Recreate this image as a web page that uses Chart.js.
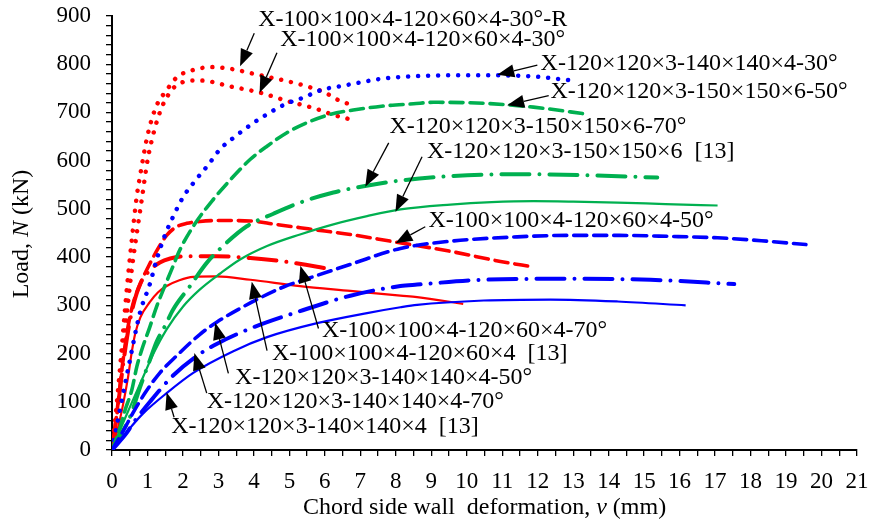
<!DOCTYPE html>
<html>
<head>
<meta charset="utf-8">
<script src="https://cdn.jsdelivr.net/npm/chart.js@4.4.1/dist/chart.umd.min.js"></script>
<style>
  html, body { margin: 0; padding: 0; background: #fff; }
  #wrap { width: 871px; height: 523px; }
</style>
</head>
<body>
<div id="wrap"><canvas id="canvas" width="871" height="523"></canvas></div>
<script>
// axis ranges / ticks
var xMax = 21, xStep = 0.5;
var yMax = 900, yStep = 20;

// X-100x100x4-120x60x4-30-R (red dotted, upper)
var r30R_x = [0, 0.1, 0.25, 0.4, 0.55, 0.7, 0.79, 0.98, 1.12, 1.3, 1.5, 1.83, 2.29, 2.81, 3.38, 3.94, 4.5, 4.93, 5.5, 5.98, 6.34, 6.86];
var r30R_y = [0, 70, 190, 320, 430, 527, 568, 645, 686, 721, 742, 773, 788, 794, 790, 781, 772, 765, 754, 742, 727, 713];
// X-100x100x4-120x60x4-30 (red dotted)
var r30_x = [0, 0.1, 0.25, 0.4, 0.55, 0.7, 0.84, 1.0, 1.2, 1.4, 1.6, 1.78, 2.25, 2.53, 3.33, 4.18, 4.93, 5.73, 6.24, 6.8];
var r30_y = [0, 55, 160, 270, 370, 450, 520, 600, 665, 710, 738, 754, 766, 766, 754, 741, 724, 708, 695, 684];
// X-100x100x4-120x60x4-50 (red dashed)
var r50_x = [0, 0.15, 0.3, 0.45, 0.6, 0.8, 1.03, 1.3, 1.54, 1.8, 2.11, 2.48, 3.0, 3.9, 4.6, 5.3, 6.0, 6.72, 7.85, 9.54, 10.95, 11.85];
var r50_y = [0, 85, 180, 255, 305, 345, 381, 418, 445, 462, 470, 474, 476, 475, 468, 461, 454, 447, 433, 412, 391, 380];
// X-100x100x4-120x60x4-70 (red dash-dot)
var r70_x = [0, 0.15, 0.3, 0.45, 0.6, 0.8, 1.07, 1.35, 1.64, 2.11, 2.95, 3.9, 4.83, 5.78, 6.2];
var r70_y = [0, 80, 170, 245, 300, 345, 373, 389, 397, 402, 402, 398, 391, 380, 374];
// X-100x100x4-120x60x4 [13] (red solid)
var r13_x = [0, 0.15, 0.3, 0.45, 0.55, 0.65, 0.8, 1.07, 1.3, 1.54, 1.9, 2.29, 2.95, 3.9, 5.3, 6.72, 8.13, 8.6, 9.9];
var r13_y = [0, 40, 90, 150, 200, 240, 275, 307, 327, 340, 352, 359, 360, 353, 340, 330, 320, 317, 303];

// X-120x120x3-140x140x4-30 (blue dotted)
var b30_x = [0, 0.2, 0.46, 0.79, 1.07, 1.26, 1.5, 1.75, 2.0, 2.34, 2.72, 3.05, 3.47, 3.94, 4.41, 4.88, 5.4, 5.92, 6.48, 7.05, 7.6, 8.5, 9.5, 10.7, 11.8, 12.9];
var b30_y = [0, 75, 170, 285, 345, 395, 447, 488, 524, 558, 592, 624, 650, 676, 698, 717, 731, 747, 755, 763, 770, 775, 777, 777, 775, 767];
// X-120x120x3-140x140x4-50 (blue dashed)
var b50_x = [0, 0.32, 0.6, 0.93, 1.35, 1.83, 2.48, 2.95, 3.9, 4.83, 5.78, 6.72, 8.13, 9.54, 11.42, 12.8, 14.25, 15.7, 17.07, 18.3, 19.56];
var b50_y = [0, 40, 78, 118, 160, 196, 240, 265, 305, 338, 362, 385, 418, 433, 442, 445, 445, 443, 440, 434, 426];
// X-120x120x3-140x140x4-70 (blue dash-dot)
var b70_x = [0, 0.41, 0.6, 1.07, 1.73, 2.39, 2.95, 3.9, 5.3, 6.72, 8.13, 8.6, 10.48, 12.83, 15.18, 17.54];
var b70_y = [0, 35, 56, 100, 155, 195, 220, 252, 288, 320, 340, 343, 353, 355, 353, 344];
// X-120x120x3-140x140x4 [13] (blue solid)
var b13_x = [0, 0.23, 0.5, 0.88, 1.54, 2.29, 3.42, 4.37, 5.78, 7.19, 8.13, 8.6, 10.48, 12.36, 14.25, 16.17];
var b13_y = [0, 21, 45, 76, 118, 160, 205, 234, 263, 284, 296, 301, 310, 312, 308, 300];

// X-120x120x3-150x150x6-50 (green dashed)
var g50_x = [0, 0.2, 0.37, 0.56, 0.7, 0.84, 1.07, 1.26, 1.45, 1.68, 1.92, 2.3, 2.86, 3.42, 3.9, 4.37, 4.93, 5.5, 6.15, 6.8, 7.6, 8.5, 9.06, 10.47, 11.88, 13.43];
var g50_y = [0, 40, 83, 125, 173, 208, 256, 298, 333, 374, 416, 465, 520, 567, 603, 630, 658, 679, 696, 705, 713, 718, 721, 719, 711, 696];
// X-120x120x3-150x150x6-70 (green dash-dot)
var g70_x = [0, 0.23, 0.51, 0.79, 1.07, 1.26, 1.5, 1.72, 2.2, 2.67, 3.13, 3.8, 4.55, 5.3, 6.24, 7.09, 8.04, 9.54, 11.42, 13.3, 15.37];
var g70_y = [0, 30, 69, 130, 187, 225, 258, 291, 340, 388, 423, 464, 490, 513, 534, 547, 558, 568, 572, 570, 565];
// X-120x120x3-150x150x6 [13] (green solid)
var g13_x = [0, 0.23, 0.51, 0.88, 1.17, 1.54, 2.01, 2.48, 3.05, 3.61, 4.37, 5.3, 6.24, 7.19, 8.13, 9.54, 10.7, 11.88, 13, 14.25, 15.6, 17.07];
var g13_y = [0, 42, 90, 152, 200, 250, 298, 333, 366, 395, 423, 447, 468, 485, 499, 509, 514, 516, 515, 513, 510, 507];

// label text, label anchor (left/middle), arrow tail, arrow tip  - all in data units
var notes = [
  { t: "X-100×100×4-120×60×4-30°-R", at: [4.12, 892], from: [4.01, 864], to: [3.61, 796] },
  { t: "X-100×100×4-120×60×4-30°", at: [4.74, 850], from: [4.65, 824], to: [4.16, 741] },
  { t: "X-120×120×3-140×140×4-30°", at: [12.08, 801], from: [11.99, 798], to: [10.86, 778] },
  { t: "X-120×120×3-150×150×6-50°", at: [12.36, 742], from: [12.31, 735], to: [11.14, 715] },
  { t: "X-120×120×3-150×150×6-70°", at: [7.82, 670], from: [7.8, 637], to: [7.14, 546] },
  { t: "X-120×120×3-150×150×6  [13]", at: [8.88, 618], from: [8.74, 608], to: [7.99, 494] },
  { t: "X-100×100×4-120×60×4-50°", at: [8.92, 475], from: [8.83, 463], to: [7.99, 429] },
  { t: "X-100×100×4-120×60×4-70°", at: [5.92, 247], from: [5.82, 252], to: [5.31, 382] },
  { t: "X-100×100×4-120×60×4  [13]", at: [4.51, 199], from: [4.37, 206], to: [3.94, 349] },
  { t: "X-120×120×3-140×140×4-50°", at: [3.47, 149], from: [3.28, 159], to: [2.91, 264] },
  { t: "X-120×120×3-140×140×4-70°", at: [2.67, 100], from: [2.67, 118], to: [2.32, 201] },
  { t: "X-120×120×3-140×140×4  [13]", at: [1.67, 48], from: [1.75, 68], to: [1.54, 119] }
];

var RED = "#ff0000", BLUE = "#0000ff", GREEN = "#00b050";
var DOT = [0.01, 10], DASH = [13, 7], DASHDOT = [28, 10, 0.01, 10];
var serif = "'Times New Roman', 'Liberation Serif', serif";

function pts(xs, ys) {
	var out = [];
	for (var i = 0; i < xs.length; i++) out.push({ x: xs[i], y: ys[i] });
	return out;
}

function line(xs, ys, color, dash, width) {
	return {
		data: pts(xs, ys),
		showLine: true,
		borderColor: color,
		backgroundColor: color,
		borderWidth: width,
		borderDash: dash,
		borderCapStyle: dash.length ? "round" : "butt",
		pointRadius: 0,
		cubicInterpolationMode: "monotone",
		fill: false
	};
}

var datasets = [
	line(b13_x, b13_y, BLUE, [], 2.2),
	line(b70_x, b70_y, BLUE, DASHDOT, 4),
	line(b50_x, b50_y, BLUE, DASH, 3.6),
	line(g13_x, g13_y, GREEN, [], 2.2),
	line(g70_x, g70_y, GREEN, DASHDOT, 4),
	line(g50_x, g50_y, GREEN, DASH, 3.6),
	line(b30_x, b30_y, BLUE, DOT, 4.5),
	line(r13_x, r13_y, RED, [], 2.2),
	line(r70_x, r70_y, RED, DASHDOT, 4),
	line(r50_x, r50_y, RED, DASH, 3.6),
	line(r30_x, r30_y, RED, DOT, 4.5),
	line(r30R_x, r30R_y, RED, DOT, 4.5)
];

// white page + axis titles + arrows with labels
var decor = {
	id: "decor",
	beforeDraw: function(chart) {
		var c = chart.ctx;
		c.save();
		c.fillStyle = "#fff";
		c.fillRect(0, 0, chart.width, chart.height);
		c.restore();
	},
	afterDatasetsDraw: function(chart) {
		var c = chart.ctx, sx = chart.scales.x, sy = chart.scales.y;
		c.save();
		notes.forEach(function(n) {
			var x0 = sx.getPixelForValue(n.from[0]), y0 = sy.getPixelForValue(n.from[1]);
			var x1 = sx.getPixelForValue(n.to[0]), y1 = sy.getPixelForValue(n.to[1]);
			var a = Math.atan2(y1 - y0, x1 - x0), hl = 17, hw = 6.5;
			var bx = x1 - hl * Math.cos(a), by = y1 - hl * Math.sin(a);
			c.strokeStyle = "#000";
			c.lineWidth = 1.3;
			c.beginPath();
			c.moveTo(x0, y0);
			c.lineTo(bx, by);
			c.stroke();
			c.fillStyle = "#000";
			c.beginPath();
			c.moveTo(x1, y1);
			c.lineTo(bx + hw * Math.sin(a), by - hw * Math.cos(a));
			c.lineTo(bx - hw * Math.sin(a), by + hw * Math.cos(a));
			c.closePath();
			c.fill();
			c.font = "24px " + serif;
			c.textBaseline = "middle";
			c.textAlign = "left";
			c.fillText(n.t, sx.getPixelForValue(n.at[0]), sy.getPixelForValue(n.at[1]));
		});
		c.restore();
	},
	afterDraw: function(chart) {
		var c = chart.ctx, area = chart.chartArea;
		c.save();
		c.fillStyle = "#000";
		c.textBaseline = "middle";
		// x title with italic v
		var p1 = "Chord side wall  deformation, ", p2 = "v", p3 = " (mm)";
		c.font = "24px " + serif;
		var w1 = c.measureText(p1).width, w3 = c.measureText(p3).width;
		c.font = "italic 24px " + serif;
		var w2 = c.measureText(p2).width;
		var cx = (area.left + area.right) / 2, ty = area.bottom + 58;
		var x = cx - (w1 + w2 + w3) / 2;
		c.textAlign = "left";
		c.font = "24px " + serif; c.fillText(p1, x, ty); x += w1;
		c.font = "italic 24px " + serif; c.fillText(p2, x, ty); x += w2;
		c.font = "24px " + serif; c.fillText(p3, x, ty);
		// y title with italic N
		var q1 = "Load, ", q2 = "N", q3 = " (kN)";
		c.translate(22, 234);
		c.rotate(-Math.PI / 2);
		c.font = "24px " + serif;
		var v1 = c.measureText(q1).width, v3 = c.measureText(q3).width;
		c.font = "italic 24px " + serif;
		var v2 = c.measureText(q2).width;
		x = -(v1 + v2 + v3) / 2;
		c.font = "24px " + serif; c.fillText(q1, x, 0); x += v1;
		c.font = "italic 24px " + serif; c.fillText(q2, x, 0); x += v2;
		c.font = "24px " + serif; c.fillText(q3, x, 0);
		c.restore();
	}
};

window.onload = function() {
	var ctx = document.getElementById("canvas").getContext("2d");
	window.myChart = new Chart(ctx, {
		type: "scatter",
		data: { datasets: datasets },
		plugins: [decor],
		options: {
			responsive: false,
			animation: false,
			layout: { padding: { top: 16, right: 14, left: 0, bottom: 0 } },
			plugins: { legend: { display: false }, tooltip: { enabled: false } },
			scales: {
				x: {
					type: "linear",
					min: 0,
					max: xMax,
					afterFit: function(s) {
						s.height = 73;
						s.paddingLeft = 0;
						s.paddingRight = 0;
					},
					border: { display: true, color: "#000", width: 2 },
					grid: { display: true, drawOnChartArea: false, drawTicks: true, tickLength: 6, color: "#000", lineWidth: 1.3 },
					ticks: {
						stepSize: xStep,
						autoSkip: false,
						maxRotation: 0,
						padding: 12,
						color: "#000",
						font: { family: serif, size: 23 },
						callback: function(v) { return Number.isInteger(v) ? String(v) : ""; }
					}
				},
				y: {
					type: "linear",
					min: 0,
					max: yMax,
					afterFit: function(s) {
						s.width = 112;
						s.paddingTop = 0;
						s.paddingBottom = 0;
					},
					border: { display: true, color: "#000", width: 2 },
					grid: { display: true, drawOnChartArea: false, drawTicks: true, tickLength: 6, color: "#000", lineWidth: 1.3 },
					ticks: {
						stepSize: yStep,
						autoSkip: false,
						padding: 15,
						color: "#000",
						font: { family: serif, size: 23 },
						callback: function(v) { return v % 100 === 0 ? String(v) : ""; }
					}
				}
			}
		}
	});
};
</script>
</body>
</html>
